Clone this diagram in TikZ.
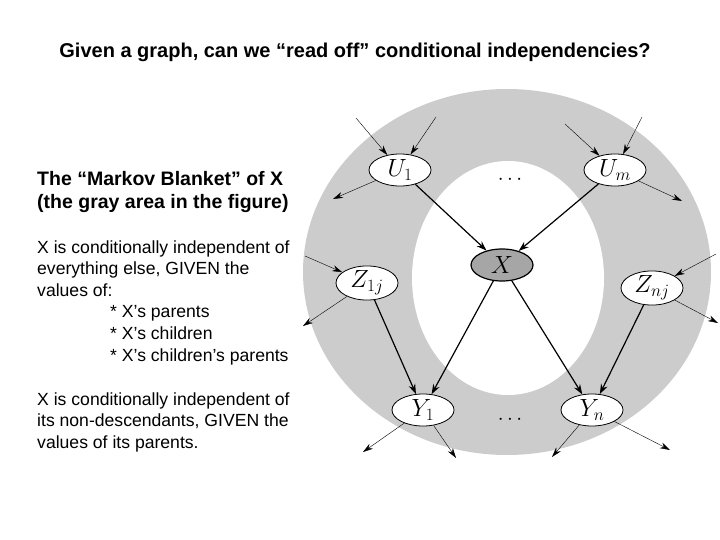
\documentclass[tikz,border=0pt]{standalone}
\usepackage{fontspec}
\setmainfont{Liberation Sans}
\usetikzlibrary{arrows.meta,shapes.geometric}

\begin{document}
\begin{tikzpicture}[x=1pt,y=-1pt]

\tikzstyle{var}=[ellipse,draw,thick,fill=white,minimum width=62pt,minimum height=32pt,inner sep=0pt,font=\fontsize{24}{28}\selectfont]
\tikzstyle{query}=[var,fill=black!35,very thick]
\tikzstyle{edge}=[-{Stealth[length=10pt,width=7pt]},very thick]
\tikzstyle{stub}=[-{Stealth[length=10pt,width=6pt]}]
\tikzstyle{txt}=[anchor=base west,inner sep=0pt,font=\fontsize{17.6}{20}\selectfont]
\tikzstyle{head}=[txt,font=\bfseries\fontsize{19.5}{22}\selectfont]

\useasboundingbox (0,0) rectangle (720,540);

%Blanket
\fill[black!20] (507,272) ellipse [x radius=204, y radius=183];
\fill[white] (508,278) ellipse [x radius=96, y radius=117];

\node[anchor=base,font=\bfseries\fontsize{20}{23}\selectfont] (title) at (355,58) {Given a graph, can we “read off” conditional independencies?};

\node[head] (head1) at (37,186) {The “Markov Blanket” of X};
\node[head] (head2) at (37,208) {(the gray area in the figure)};
\node[txt] (l1) at (37,253) {X is conditionally independent of};
\node[txt] (l2) at (37,274) {everything else, GIVEN the};
\node[txt] (l3) at (37,296) {values of:};
\node[txt] (l4) at (110,317) {* X’s parents};
\node[txt] (l5) at (110,339) {* X’s children};
\node[txt] (l6) at (110,361) {* X’s children’s parents};
\node[txt] (l7) at (37,405) {X is conditionally independent of};
\node[txt] (l8) at (37,426) {its non-descendants, GIVEN the};
\node[txt] (l9) at (37,448) {values of its parents.};

\node[var] (u1) at (400,170) {$U_1$};
\node[var] (um) at (615,170) {$U_m$};
\node[query] (x) at (502,265) {$X$};
\node[var] (z1) at (367,283) {$Z_{1j}$};
\node[var] (zn) at (652,288) {$Z_{nj}$};
\node[var] (y1) at (423,410) {$Y_1$};
\node[var] (yn) at (592,410) {$Y_n$};
\node[font=\fontsize{20}{24}\selectfont] (dotsU) at (510,180) {$\cdots$};
\node[font=\fontsize{20}{24}\selectfont] (dotsY) at (510,420) {$\cdots$};

\draw[edge] (u1) -- (x);
\draw[edge] (um) -- (x);
\draw[edge] (x) -- (y1);
\draw[edge] (x) -- (yn);
\draw[edge] (z1) -- (y1);
\draw[edge] (zn) -- (yn);

%free ends
\coordinate (u1a) at (356,118);
\coordinate (u1b) at (436,117);
\coordinate (u1c) at (333,199);
\coordinate (uma) at (565,124);
\coordinate (umb) at (642,117);
\coordinate (umc) at (682,201);
\coordinate (z1a) at (305,256);
\coordinate (z1b) at (303,326);
\coordinate (zna) at (716,254);
\coordinate (znb) at (718,323);
\coordinate (y1a) at (363,452);
\coordinate (y1b) at (456,458);
\coordinate (yna) at (552,457);
\coordinate (ynb) at (670,450);

\draw[stub] (u1a) -- (u1);
\draw[stub] (u1b) -- (u1);
\draw[stub] (u1) -- (u1c);
\draw[stub] (uma) -- (um);
\draw[stub] (umb) -- (um);
\draw[stub] (um) -- (umc);
\draw[stub] (z1a) -- (z1);
\draw[stub] (z1) -- (z1b);
\draw[stub] (zna) -- (zn);
\draw[stub] (zn) -- (znb);
\draw[stub] (y1) -- (y1a);
\draw[stub] (y1) -- (y1b);
\draw[stub] (yn) -- (yna);
\draw[stub] (yn) -- (ynb);

\end{tikzpicture}
\end{document}
